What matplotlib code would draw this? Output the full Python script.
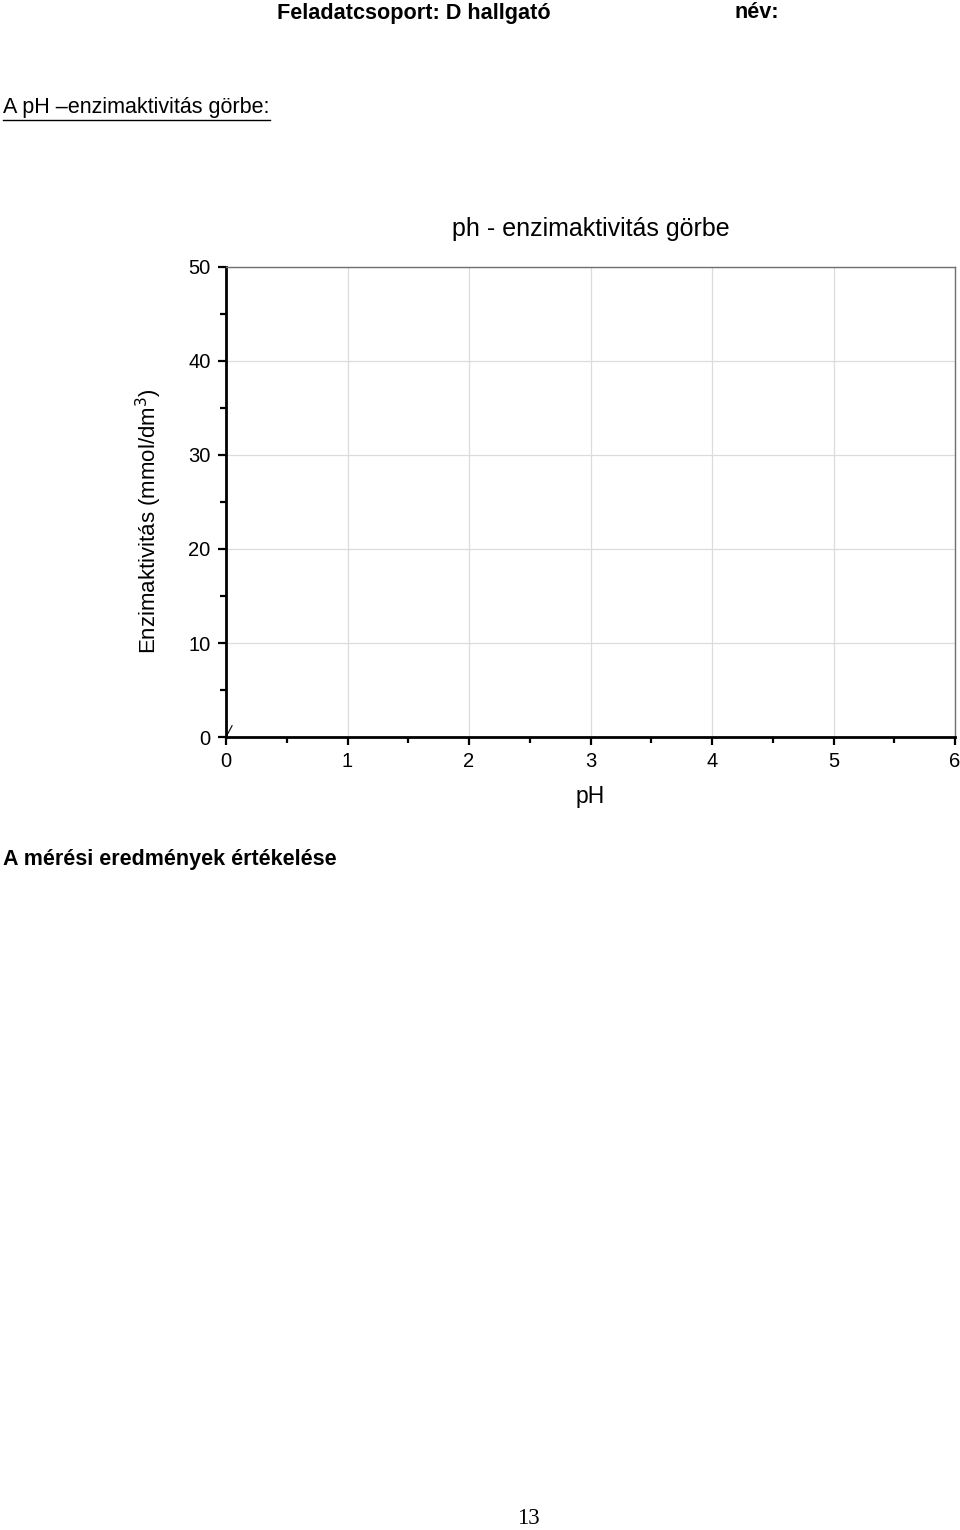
import numpy as np
import matplotlib
matplotlib.use("Agg")
import matplotlib.pyplot as plt
from matplotlib.lines import Line2D
from matplotlib.ticker import MultipleLocator

plt.rcParams['font.family'] = ['Liberation Sans', 'DejaVu Sans']

# axis setup
ph_ticks = [0, 1, 2, 3, 4, 5, 6]
activity_ticks = [0, 10, 20, 30, 40, 50]
ph_range = (0, 6)
activity_range = (0, 50)

header_left = "Feladatcsoport: D hallgató"
header_right = "név:"
section1 = "A pH \u2013enzimaktivitás görbe:"
chart_title = "ph - enzimaktivitás görbe"
xlab = "pH"
ylab = "Enzimaktivitás (mmol/dm$^3$)"
section2 = "A mérési eredmények értékelése"
page_no = "13"

W, H = 960, 1530
fig = plt.figure(figsize=(W / 100, H / 100), dpi=100)

narrow = ['Liberation Sans Narrow', 'Liberation Sans', 'DejaVu Sans']

def fx(px):
    return px / W

def fy(py):
    return 1 - py / H

fig.text(fx(277), fy(13), header_left, family=narrow, weight='bold',
         fontsize=15.6, ha='left', va='center')
fig.text(fx(735), fy(13), header_right, family=narrow, weight='bold',
         fontsize=15.6, ha='left', va='center')

t1 = fig.text(fx(3), fy(108), section1, family=narrow, fontsize=15.5,
              ha='left', va='center')

ax = fig.add_axes([fx(226), fy(737), fx(955 - 226), (737 - 267) / H])
ax.set_xlim(*ph_range)
ax.set_ylim(*activity_range)
ax.set_xticks(ph_ticks)
ax.set_yticks(activity_ticks)
ax.xaxis.set_minor_locator(MultipleLocator(0.5))
ax.yaxis.set_minor_locator(MultipleLocator(5))
ax.grid(True, which='major', color='#dcdcdc', linewidth=0.9)
ax.set_axisbelow(True)

for side in ['left', 'bottom']:
    ax.spines[side].set_linewidth(2)
    ax.spines[side].set_color('black')
for side in ['top', 'right']:
    ax.spines[side].set_linewidth(1)
    ax.spines[side].set_color('#707070')

ax.tick_params(which='major', direction='out', length=6, width=1.6,
               labelsize=14.5, pad=5, top=False, right=False)
ax.tick_params(which='minor', direction='out', length=4, width=1.6,
               top=False, right=False)

ax.set_title(chart_title, fontsize=18, pad=22)
ax.set_xlabel(xlab, fontsize=16.5, labelpad=10)
ax.set_ylabel(ylab, fontsize=16)
ax.yaxis.set_label_coords(-0.085, 0.46)

# little break mark at the origin
ax.plot([0, 0.05], [0, 1.2], color='black', lw=0.8, clip_on=False)

fig.text(fx(3), fy(860), section2, weight='bold', fontsize=15.5,
         ha='left', va='center')
fig.text(fx(528), fy(1519), page_no, family=['Liberation Serif', 'DejaVu Serif'],
         fontsize=16.5, ha='center', va='center')

# underline for the first section heading
fig.canvas.draw()
bb = t1.get_window_extent(renderer=fig.canvas.get_renderer())
fig.add_artist(Line2D([bb.x0 / W, bb.x1 / W], [(bb.y0 - 1) / H] * 2,
                      color='black', lw=1))

fig.savefig("out.png", dpi=100)
